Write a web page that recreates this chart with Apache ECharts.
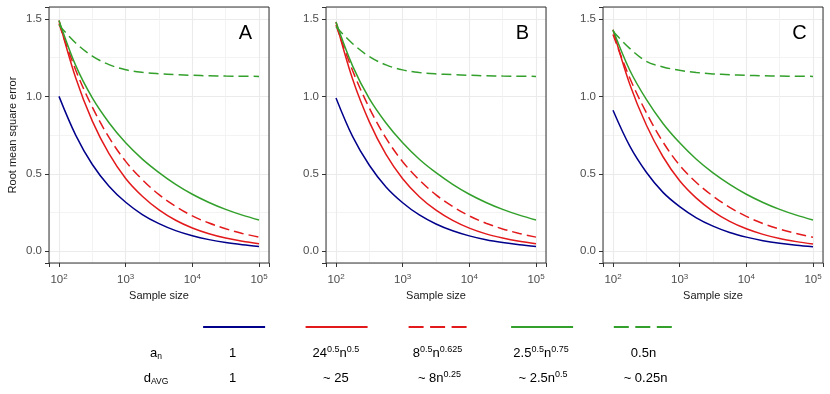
<!DOCTYPE html>
<html>
<head>
<meta charset="utf-8">
<script src="https://cdn.jsdelivr.net/npm/echarts@6/dist/echarts.min.js"></script>
<style>
    html, body { margin: 0; padding: 0; background: #fff; }
    #chart { width: 830px; height: 394px; }
</style>
</head>
<body>
<div id="chart"></div>
<script>
// x positions are log10(sample size)
const sampleExp = [2, 2.25, 2.5, 2.75, 3, 3.25, 3.5, 3.75, 4, 4.25, 4.5, 4.75, 5];

// panel A
const blueA = [1.00, 0.75, 0.56, 0.42, 0.316, 0.237, 0.178, 0.133, 0.100, 0.075, 0.056, 0.042, 0.031];
const redA = [1.49, 1.12, 0.84, 0.63, 0.47, 0.355, 0.267, 0.200, 0.150, 0.113, 0.085, 0.064, 0.048];
const redDashA = [1.47, 1.17, 0.93, 0.735, 0.58, 0.462, 0.365, 0.290, 0.228, 0.182, 0.145, 0.115, 0.091];
const greenA = [1.49, 1.20, 0.99, 0.83, 0.70, 0.595, 0.508, 0.432, 0.368, 0.315, 0.270, 0.233, 0.202];
const greenDashA = [1.46, 1.345, 1.26, 1.205, 1.172, 1.155, 1.146, 1.140, 1.136, 1.133, 1.131, 1.130, 1.129];

// panel B
const blueB = [0.99, 0.74, 0.555, 0.415, 0.313, 0.234, 0.176, 0.132, 0.099, 0.074, 0.056, 0.042, 0.031];
const redB = [1.48, 1.11, 0.835, 0.625, 0.468, 0.352, 0.265, 0.199, 0.149, 0.112, 0.085, 0.064, 0.048];
const redDashB = [1.46, 1.165, 0.925, 0.73, 0.578, 0.46, 0.364, 0.289, 0.228, 0.181, 0.144, 0.115, 0.091];
const greenB = [1.48, 1.195, 0.985, 0.828, 0.70, 0.594, 0.507, 0.432, 0.368, 0.315, 0.270, 0.233, 0.202];
const greenDashB = [1.45, 1.34, 1.257, 1.203, 1.171, 1.154, 1.145, 1.140, 1.136, 1.133, 1.131, 1.130, 1.129];

// panel C
const blueC = [0.91, 0.68, 0.51, 0.38, 0.288, 0.216, 0.162, 0.121, 0.091, 0.068, 0.051, 0.038, 0.029];
const redC = [1.43, 1.08, 0.815, 0.61, 0.455, 0.343, 0.258, 0.193, 0.145, 0.109, 0.082, 0.062, 0.046];
const redDashC = [1.40, 1.12, 0.895, 0.705, 0.555, 0.444, 0.356, 0.283, 0.225, 0.179, 0.143, 0.114, 0.090];
const greenC = [1.43, 1.17, 0.98, 0.825, 0.70, 0.594, 0.506, 0.432, 0.368, 0.315, 0.270, 0.233, 0.202];
const greenDashC = [1.42, 1.31, 1.226, 1.19, 1.168, 1.154, 1.145, 1.140, 1.136, 1.133, 1.131, 1.130, 1.129];

const panelLetters = ['A', 'B', 'C'];

// legend table texts
const anLabels = ['1', '24{sup|0.5}n{sup|0.5}', '8{sup|0.5}n{sup|0.625}', '2.5{sup|0.5}n{sup|0.75}', '0.5n'];
const dAvgLabels = ['1', '~ 25', '~ 8n{sup|0.25}', '~ 2.5n{sup|0.5}', '~ 0.25n'];

const FONT = '"Liberation Sans", Arial, Helvetica, sans-serif';

const panels = [
    { blue: blueA, red: redA, redDash: redDashA, green: greenA, greenDash: greenDashA },
    { blue: blueB, red: redB, redDash: redDashB, green: greenB, greenDash: greenDashB },
    { blue: blueC, red: redC, redDash: redDashC, green: greenC, greenDash: greenDashC }
];

const lineKinds = [
    { key: 'blue', name: 'l1', color: '#00008B', dashed: false },
    { key: 'red', name: 'l2', color: '#E31A1C', dashed: false },
    { key: 'redDash', name: 'l3', color: '#E31A1C', dashed: true },
    { key: 'green', name: 'l4', color: '#33A02C', dashed: false },
    { key: 'greenDash', name: 'l5', color: '#33A02C', dashed: true }
];

const gridLefts = [49, 326, 603];
const legendLefts = [202, 304.5, 407.5, 510, 612.7];
const columnCenters = [232.5, 335.8, 437.5, 541, 643.5];

const isNear = (v, step) => Math.abs(v / step - Math.round(v / step)) < 1e-6;

const grids = gridLefts.map(left => ({
    left: left, top: 7, width: 220, height: 256,
    show: true, borderColor: '#333333', borderWidth: 1, z: 3
}));

const xAxes = gridLefts.map((left, i) => ({
    type: 'value', gridIndex: i, min: 1.85, max: 5.15, splitNumber: 3,
    name: 'Sample size', nameLocation: 'middle', nameGap: 27,
    nameTextStyle: { fontFamily: FONT, fontSize: 11, color: '#1a1a1a' },
    axisLine: { show: false, onZero: false },
    axisTick: { show: true, length: 4, lineStyle: { color: '#333333', width: 1 } },
    axisLabel: {
        margin: 10,
        formatter: v => isNear(v, 1) ? '{b|10}{s|' + Math.round(v) + '}' : '',
        rich: {
            b: { fontFamily: FONT, fontSize: 11.5, color: '#4d4d4d', lineHeight: 14 },
            s: { fontFamily: FONT, fontSize: 8, color: '#4d4d4d', lineHeight: 8, verticalAlign: 'top' }
        }
    },
    splitLine: { show: true, lineStyle: { color: '#ebebeb', width: 1.1 } },
    minorTick: { show: false, splitNumber: 2 },
    minorSplitLine: { show: true, lineStyle: { color: '#f0f0f0', width: 0.8 } }
}));

const yAxes = gridLefts.map((left, i) => ({
    type: 'value', gridIndex: i, min: -0.076, max: 1.577, splitNumber: 3,
    name: i === 0 ? 'Root mean square error' : '',
    nameLocation: 'middle', nameGap: 31, nameRotate: 90,
    nameTextStyle: { fontFamily: FONT, fontSize: 11, color: '#1a1a1a' },
    axisLine: { show: false, onZero: false },
    axisTick: { show: true, length: 4, lineStyle: { color: '#333333', width: 1 } },
    axisLabel: {
        margin: 7, fontFamily: FONT, fontSize: 11.5, color: '#4d4d4d',
        formatter: v => isNear(v, 0.5) ? v.toFixed(1) : ''
    },
    splitLine: { show: true, lineStyle: { color: '#ebebeb', width: 1.1 } },
    minorTick: { show: false, splitNumber: 2 },
    minorSplitLine: { show: true, lineStyle: { color: '#f0f0f0', width: 0.8 } }
}));

const series = [];
panels.forEach((p, i) => {
    lineKinds.forEach(k => {
        series.push({
            name: k.name, type: 'line', xAxisIndex: i, yAxisIndex: i,
            data: sampleExp.map((x, j) => [x, p[k.key][j]]),
            symbol: 'none', smooth: 0.35, silent: true,
            itemStyle: { color: k.color },
            lineStyle: { color: k.color, width: 1.5, type: k.dashed ? [10, 5] : 'solid' }
        });
    });
});

// legend keys: line only, the symbol is made invisible
const legends = lineKinds.map((k, i) => ({
    data: [k.name], left: legendLefts[i], top: 320, orient: 'horizontal',
    padding: 0, itemGap: 0, itemWidth: 62, itemHeight: 14, selectedMode: false,
    formatter: () => '', textStyle: { fontSize: 1 },
    itemStyle: { color: 'rgba(0,0,0,0)', borderColor: 'rgba(0,0,0,0)', borderWidth: 0, opacity: 0 },
    lineStyle: { color: k.color, width: 2.2, type: k.dashed ? [15, 6.5] : 'solid' }
}));

const rich = {
    m: { fontFamily: FONT, fontSize: 13, lineHeight: 16, color: '#000' },
    sup: { fontFamily: FONT, fontSize: 9, lineHeight: 9, verticalAlign: 'top', color: '#000' },
    sub: { fontFamily: FONT, fontSize: 8.5, lineHeight: 9, verticalAlign: 'bottom', color: '#000' }
};

// wrap plain runs in the main style so every run is rich text
const richText = s => s.split(/(\{sup\|[^}]*\})/).filter(t => t).map(t => t.startsWith('{') ? t : '{m|' + t + '}').join('');

const textEl = (x, y, text, size, color) => ({
    type: 'text', x: x, y: y, silent: true,
    style: { text: text, rich: rich, align: 'center', verticalAlign: 'middle', fontFamily: FONT, fontSize: size || 13, fill: color || '#000' }
});

const graphics = [];
panelLetters.forEach((letter, i) => {
    graphics.push(textEl(gridLefts[i] + 196.5, 33, letter, 20));
});
graphics.push(textEl(156, 353, '{m|a}{sub|n}'));
graphics.push(textEl(156, 378, '{m|d}{sub|AVG}'));
anLabels.forEach((t, i) => graphics.push(textEl(columnCenters[i], 353, richText(t))));
dAvgLabels.forEach((t, i) => graphics.push(textEl(columnCenters[i] + (i > 1 ? 2 : 0), 378, richText(t))));

const myChart = echarts.init(document.getElementById('chart'), null, { renderer: 'canvas' });
myChart.setOption({
    animation: false,
    backgroundColor: '#ffffff',
    textStyle: { fontFamily: FONT },
    grid: grids,
    xAxis: xAxes,
    yAxis: yAxes,
    legend: legends,
    series: series,
    graphic: graphics
});
</script>
</body>
</html>
